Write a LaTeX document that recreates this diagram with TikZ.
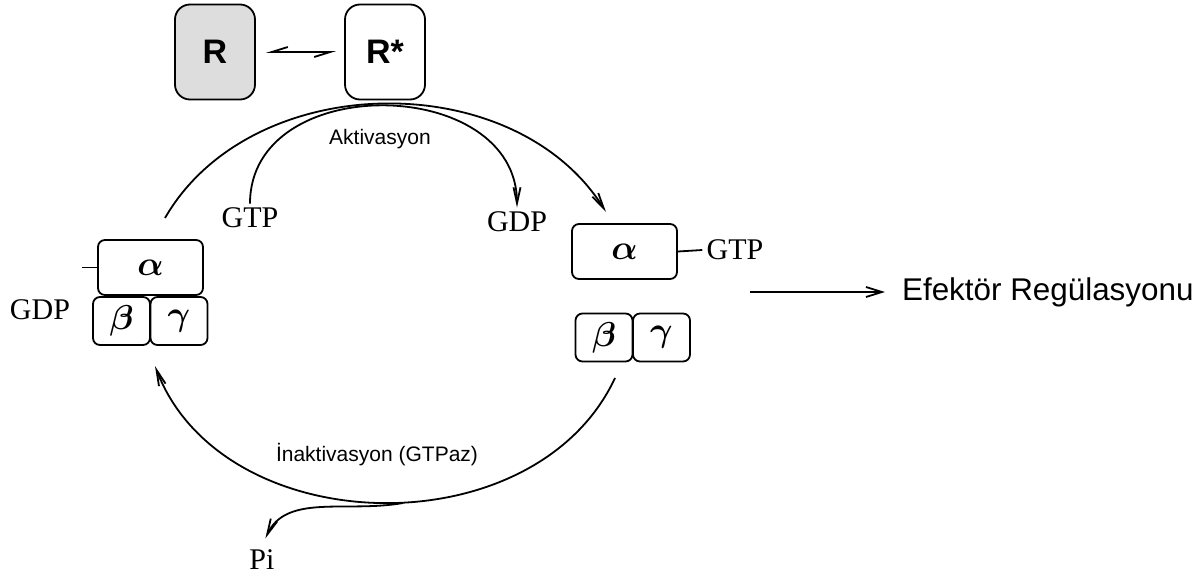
\documentclass[tikz,border=0pt]{standalone}
\usepackage{fontspec}
\setmainfont{Liberation Serif}
\setsansfont{Liberation Sans}
\usetikzlibrary{arrows.meta}
\tikzstyle{recep} = [rectangle, rounded corners=7.5pt, minimum width=40pt, minimum height=47.5pt, draw=black, line width=0.9pt, font=\sffamily\bfseries\fontsize{17}{20}\selectfont]
\tikzstyle{sub} = [rectangle, rounded corners=3.5pt, minimum width=28.5pt, minimum height=24pt, draw=black, line width=0.9pt, font=\boldmath\fontsize{17.28}{20}\selectfont]
\tikzstyle{alfa} = [sub, minimum width=52.5pt, minimum height=27.5pt]
\tikzstyle{nuc} = [font=\fontsize{15}{18}\selectfont, inner sep=2pt]
\tikzstyle{lbl} = [font=\sffamily\fontsize{10.5}{12}\selectfont]
\tikzstyle{plain} = [line width=0.9pt]
\tikzstyle{arrow} = [line width=0.9pt, -{Straight Barb[length=8pt,width=3.5pt]}]
\tikzstyle{harp} = [line width=0.9pt, {Straight Barb[harpoon,swap,length=8pt,width=5pt]}-{Straight Barb[harpoon,swap,length=8pt,width=5pt]}, shorten <=5pt, shorten >=4pt]

\begin{document}
\begin{tikzpicture}[x=0.5pt, y=0.5pt, node distance=28.75pt]
        \useasboundingbox (0,0) rectangle (1203,-578);
        % receptor
        \node (r) [recep, fill=gray!27] at (215,-52) {R};
        \node (rs) [recep] at (385,-52) {R*};
        \draw [harp] (r) -- (rs);
        % inactive G protein
        \node (alphaL) [alfa] at (150.5,-267.5) {$\alpha$};
        \node (betaL) [sub] at (121.5,-321) {$\beta$};
        \node (gammaL) [sub, right of=betaL] {$\gamma$};
        \node (gdpL) [nuc] at (40,-310) {GDP};
        \coordinate (tickL) at (82,-267.5);
        \draw [plain] (alphaL.west) -- (tickL);
        % active G protein
        \node (alphaR) [alfa] at (624.5,-251.5) {$\alpha$};
        \node (betaR) [sub] at (604,-337.5) {$\beta$};
        \node (gammaR) [sub, right of=betaR] {$\gamma$};
        \node (gtpR) [nuc] at (735,-250) {GTP};
        \draw [plain] (alphaR.east) -- (gtpR.west);
        % activation
        \node (gtpA) [nuc] at (250,-218) {GTP};
        \node (gdpA) [nuc] at (517,-222) {GDP};
        \node (akt) [lbl] at (380,-139) {Aktivasyon};
        \coordinate (actS) at (165,-218);
        \coordinate (actE) at (606,-212);
        \draw [arrow] (actS) to[out=60, in=122] (actE);
        \draw [arrow] (gtpA.north) to[out=90, in=90, looseness=1.27] (gdpA.north);
        % effector
        \coordinate (effS) at (750,-292);
        \node (eff) [anchor=west, font=\sffamily\fontsize{15.7}{18}\selectfont] at (895,-292) {Efektör Regülasyonu};
        \draw [arrow, -{Straight Barb[length=8pt,width=5pt]}, shorten >=5pt] (effS) -- (eff.west);
        % inactivation
        \node (ina) [lbl] at (377,-455) {İnaktivasyon (GTPaz)};
        \coordinate (inaS) at (615,-378);
        \coordinate (inaE) at (155,-366);
        \draw [arrow] (inaS) to[out=245, in=-69, looseness=1.05] (inaE);
        \node (pi) [nuc] at (262,-560) {Pi};
        \coordinate (piS) at (403,-503);
        \draw [arrow, shorten >=4pt] (piS) to[out=190, in=65] (pi.north);
\end{tikzpicture}
\end{document}
